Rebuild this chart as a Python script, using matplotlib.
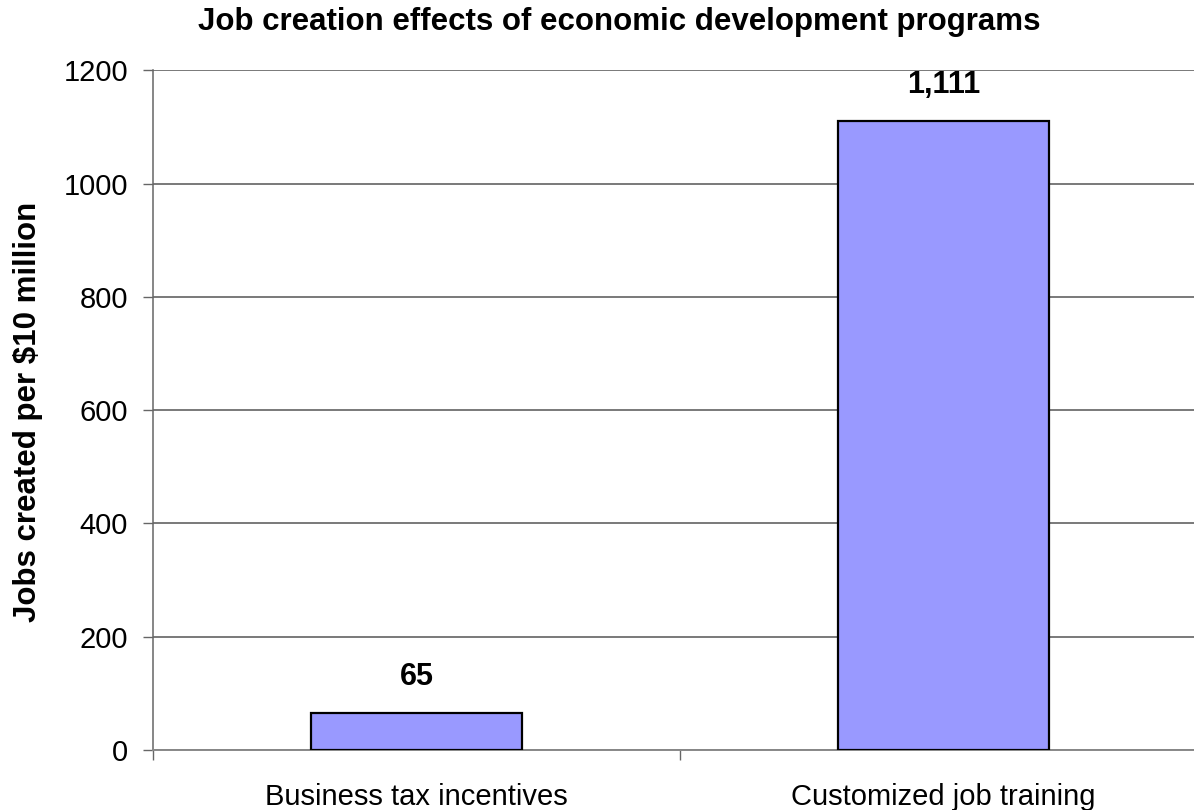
import matplotlib
matplotlib.use("Agg")
from matplotlib import pyplot as plt

categories = ["Business tax incentives", "Customized job training"]
jobs = [65, 1111]
value_labels = ["65", "1,111"]
yticks = [0, 200, 400, 600, 800, 1000, 1200]

plt.rcParams['font.family'] = ['Liberation Sans', 'DejaVu Sans']

fig = plt.figure(figsize=(11.94, 8.10), dpi=100)
# plot area runs past the right edge of the picture, like the reference
ax = fig.add_axes([153/1194, 1 - 750/810, 1054/1194, 679.6/810])

x = list(range(len(categories)))
ax.bar(x, jobs, width=0.402, color='#9999ff', edgecolor='black', linewidth=1.6, zorder=3)

for xi, v, lab in zip(x, jobs, value_labels):
    ax.annotate(lab, (xi, v), xytext=(0, 15), textcoords='offset points',
                ha='center', va='bottom', fontsize=22, fontweight='bold')

ax.set_xlim(-0.5, 1.5)
ax.set_ylim(0, 1200)
ax.set_yticks(yticks)
ax.yaxis.grid(True, color='#555555', linewidth=1.1, zorder=0)
ax.set_axisbelow(True)

# category boundaries carry the tick marks, names sit under the bars
ax.set_xticks([-0.5, 0.5, 1.5])
ax.set_xticklabels([])
ax.set_xticks(x, minor=True)
ax.set_xticklabels(categories, minor=True, fontsize=21)
ax.tick_params(axis='x', which='minor', length=0, pad=24)
ax.tick_params(axis='x', which='major', length=7, color='#666666', width=1)
ax.tick_params(axis='y', length=7, color='#666666', width=1, labelsize=21, pad=11)

for s in ['top', 'right']:
    ax.spines[s].set_visible(False)
ax.spines['left'].set_color('#666666')
ax.spines['bottom'].set_color('#888888')
ax.spines['left'].set_linewidth(1.1)
ax.spines['bottom'].set_linewidth(1.4)

fig.text(619/1194, 1 - 30/810, "Job creation effects of economic development programs",
         ha='center', va='baseline', fontsize=22.5, fontweight='bold')
fig.text(28/1194, 1 - 412/810, "Jobs created per $10 million", rotation=90,
         ha='center', va='center', fontsize=22.5, fontweight='bold')

fig.savefig('out.png', dpi=100)
